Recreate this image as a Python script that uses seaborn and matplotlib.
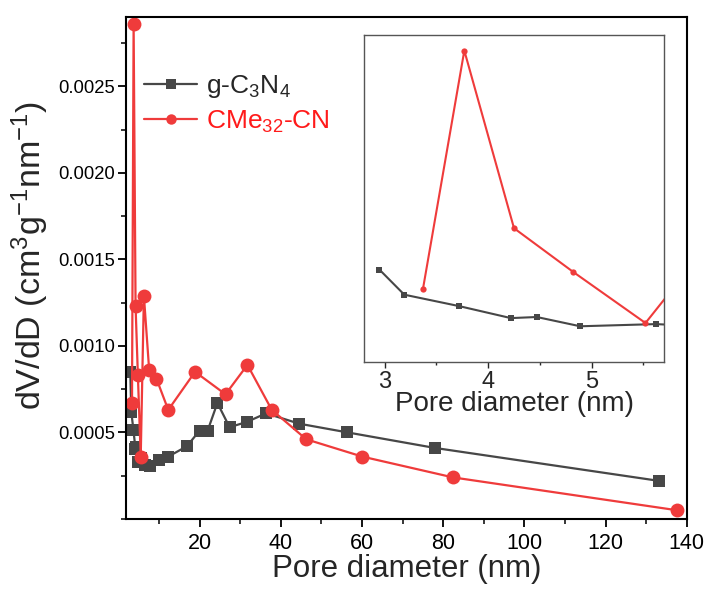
import matplotlib
matplotlib.use('Agg')
import matplotlib.pyplot as plt
import seaborn as sns
import pandas as pd
from matplotlib.ticker import MultipleLocator, NullLocator

# pore size distribution
gcn_d = [2.95, 3.19, 3.72, 4.22, 4.47, 4.89, 5.62, 6.5, 7.9, 9.9, 12.3, 16.9,
         20.0, 22.0, 24.4, 27.4, 31.6, 36.4, 44.6, 56.4, 78.0, 133.1]
gcn_v = [0.00085, 0.00062, 0.000515, 0.000405, 0.000415, 0.00033, 0.00035, 0.00031,
         0.000305, 0.00034, 0.00036, 0.00042, 0.00051, 0.00051, 0.00067, 0.00053,
         0.00056, 0.00061, 0.00055, 0.00050, 0.00041, 0.00022]

cme_d = [3.37, 3.77, 4.25, 4.82, 5.52, 6.3, 7.6, 9.4, 12.3, 18.9, 26.4, 31.8,
         37.8, 46.3, 60.1, 82.4, 137.6]
cme_v = [0.00067, 0.00286, 0.00123, 0.00083, 0.00036, 0.00129, 0.00086, 0.00081,
         0.00063, 0.00085, 0.00072, 0.00089, 0.00063, 0.00046, 0.00036, 0.00024, 0.00005]

labels = ['g-C$_3$N$_4$', 'CMe$_{32}$-CN']
gray = '#474747'
red = '#EF3B3B'

sns.set_style('ticks')
plt.rcParams['font.family'] = ['Liberation Sans', 'DejaVu Sans']
plt.rcParams['mathtext.fontset'] = 'custom'
plt.rcParams['mathtext.rm'] = 'Liberation Sans'
plt.rcParams['mathtext.it'] = 'Liberation Sans:italic'
plt.rcParams['mathtext.bf'] = 'Liberation Sans:bold'

gcn = pd.DataFrame({'d': gcn_d, 'v': gcn_v})
cme = pd.DataFrame({'d': cme_d, 'v': cme_v})

fig = plt.figure(figsize=(7.08, 5.89), dpi=100)
ax = fig.add_axes([0.178, 0.119, 0.792, 0.852])

sns.lineplot(data=gcn, x='d', y='v', ax=ax, sort=False, estimator=None, color=gray,
             marker='s', markersize=9, markeredgewidth=0, linewidth=1.6, label=labels[0])
sns.lineplot(data=cme, x='d', y='v', ax=ax, sort=False, estimator=None, color=red,
             marker='o', markersize=10, markeredgewidth=0, linewidth=1.6, label=labels[1])

ax.set_xlim(1.9, 140)
ax.set_ylim(0, 0.0029)
ax.xaxis.set_minor_locator(MultipleLocator(10))
ax.yaxis.set_minor_locator(MultipleLocator(0.00025))
ax.set_xticks([20, 40, 60, 80, 100, 120, 140])
ax.set_yticks([0.0005, 0.0010, 0.0015, 0.0020, 0.0025])
ax.set_yticklabels(['0.0005', '0.0010', '0.0015', '0.0020', '0.0025'])
ax.tick_params(which='major', direction='out', length=6, width=1.3, colors='black')
ax.tick_params(which='minor', direction='out', length=3.5, width=1.3)
ax.tick_params(axis='x', labelsize=15.5, pad=4)
ax.tick_params(axis='y', labelsize=13.3, pad=2)
for s in ax.spines.values():
    s.set_linewidth(1.5)
    s.set_color('black')
ax.set_xlabel('Pore diameter (nm)', fontsize=22.5, labelpad=0)
ax.set_ylabel('dV/dD (cm$^{3}$g$^{-1}$nm$^{-1}$)', fontsize=24.5)
ax.yaxis.set_label_coords(-0.134, 0.525)

leg = ax.legend(loc='upper left', bbox_to_anchor=(-0.01, 0.935), frameon=False, fontsize=19,
                handlelength=2.0, handletextpad=0.35, labelspacing=0.3, markerscale=0.75)
leg.get_texts()[1].set_color('#FF1A1A')

# inset zoom on the small pores
ins = fig.add_axes([0.514, 0.385, 0.424, 0.555])
sns.lineplot(data=gcn, x='d', y='v', ax=ins, sort=False, estimator=None, color=gray,
             marker='s', markersize=4, markeredgewidth=0, linewidth=1.5, legend=False)
sns.lineplot(data=cme, x='d', y='v', ax=ins, sort=False, estimator=None, color=red,
             marker='o', markersize=4.5, markeredgewidth=0, linewidth=1.5, legend=False)
ins.set_xlim(2.8, 5.7)
ins.set_ylim(0, 0.003)
ins.set_xticks([3, 4, 5])
ins.xaxis.set_minor_locator(MultipleLocator(0.5))
ins.yaxis.set_major_locator(NullLocator())
ins.tick_params(which='major', direction='out', length=4, width=1, labelsize=17, pad=2)
ins.tick_params(which='minor', direction='out', length=2.5, width=1)
for s in ins.spines.values():
    s.set_linewidth(1)
    s.set_color('#555555')
ins.set_xlabel('Pore diameter (nm)', fontsize=20, labelpad=-1)
ins.set_ylabel('')

fig.savefig('out.png', dpi=100)
